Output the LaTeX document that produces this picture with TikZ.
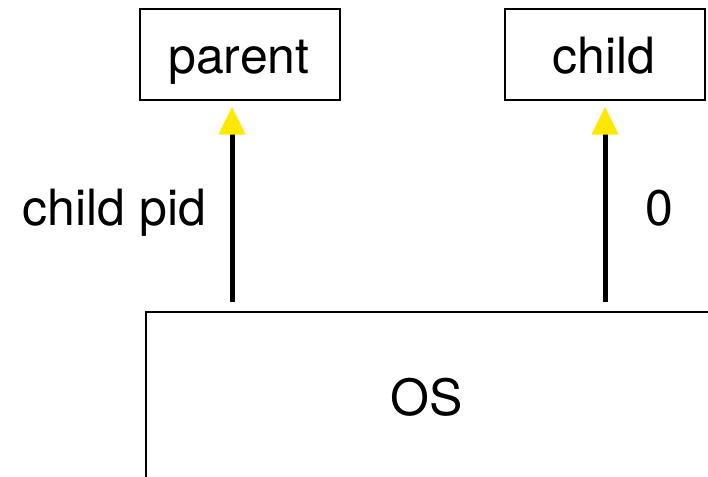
\documentclass[tikz,border=0pt]{standalone}
\usepackage{fontspec}
\setmainfont{TeX Gyre Heros}
\usetikzlibrary{arrows.meta,calc}
\definecolor{tipyellow}{HTML}{FFE800}
\begin{document}
\begin{tikzpicture}[x=1pt,y=1pt,
  box/.style={draw,line width=1.5pt,minimum width=200pt,minimum height=91pt,inner sep=0pt},
  lbl/.style={font=\fontsize{50}{54}\selectfont,inner sep=0pt,anchor=base},
  ret/.style={line width=5pt,-{Triangle[length=28pt,width=26pt,fill=tipyellow,color=tipyellow]}}]
\useasboundingbox (0,0) rectangle (708,476);
\node[box] (parent) at (240,421.5) {};
\node[box] (child) at (605,421.5) {};
\node[lbl] (parenttxt) at (239,402) {parent};
\node[lbl] (childtxt) at (604,402) {child};
\draw[line width=1.5pt] (708,164) -- (146,164) -- (146,-5);
\node[lbl] (os) at (427,61) {OS};
\coordinate (p0) at (232,174);
\coordinate (c0) at (605,174);
\draw[ret] (p0) -- ($(parent.south -| p0)+(0,-6)$);
\draw[ret] (c0) -- ($(child.south -| c0)+(0,-6)$);
\node[lbl] (lp) at (114.5,250) {child pid};
\node[lbl] (lc) at (659,250) {0};
\end{tikzpicture}
\end{document}
